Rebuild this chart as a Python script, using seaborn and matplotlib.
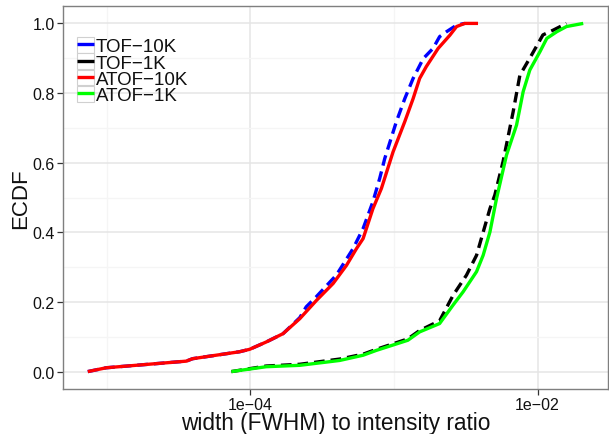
import matplotlib
matplotlib.use("Agg")
import numpy as np
import pandas as pd
import matplotlib.pyplot as plt
import seaborn as sns
from matplotlib.patches import Rectangle
from matplotlib.lines import Line2D
from matplotlib.legend_handler import HandlerTuple
from matplotlib.ticker import FixedLocator, NullFormatter

# ---------------- data ----------------
series = ["TOF−10K", "TOF−1K", "ATOF−10K", "ATOF−1K"]
colors = ["#0000ff", "#000000", "#ff0000", "#00ff00"]
dashed = [True, True, False, False]

tof10k_x = [7.38e-6, 9.93e-6, 3.58e-5, 3.96e-5, 8.41e-5, 9.89e-5, 1.29e-4, 1.69e-4,
            2.21e-4, 2.45e-4, 2.88e-4, 3.97e-4, 5.19e-4, 6.10e-4, 7.14e-4, 7.96e-4,
            8.63e-4, 1.04e-3, 1.19e-3, 1.36e-3, 1.60e-3, 1.87e-3, 2.08e-3, 2.32e-3,
            2.73e-3, 3.11e-3]
tof10k_y = [0.0, 0.011, 0.030, 0.037, 0.057, 0.064, 0.085, 0.109,
            0.155, 0.186, 0.215, 0.277, 0.353, 0.411, 0.488, 0.555,
            0.612, 0.718, 0.784, 0.842, 0.899, 0.928, 0.962, 0.976,
            0.995, 1.0]

tof1k_x = [7.38e-5, 1.29e-4, 2.21e-4, 4.19e-4, 6.10e-4, 7.55e-4, 1.25e-3, 1.51e-3,
           2.08e-3, 2.58e-3, 3.20e-3, 3.76e-3, 4.66e-3, 5.04e-3, 5.75e-3, 6.76e-3,
           7.53e-3, 9.08e-3, 1.09e-2, 1.29e-2, 1.59e-2]
tof1k_y = [0.0, 0.016, 0.021, 0.036, 0.050, 0.064, 0.094, 0.118,
           0.146, 0.219, 0.277, 0.334, 0.468, 0.507, 0.603, 0.746,
           0.851, 0.909, 0.967, 0.981, 1.0]

atof10k_x = [7.38e-6, 9.93e-6, 3.58e-5, 3.96e-5, 8.41e-5, 9.89e-5, 1.29e-4, 1.69e-4,
             2.21e-4, 2.88e-4, 3.77e-4, 4.67e-4, 5.48e-4, 6.10e-4, 7.14e-4, 8.18e-4,
             9.86e-4, 1.19e-3, 1.36e-3, 1.51e-3, 1.68e-3, 2.03e-3, 2.45e-3, 2.73e-3,
             3.11e-3, 3.85e-3]
atof10k_y = [0.0, 0.011, 0.030, 0.037, 0.057, 0.064, 0.085, 0.109,
             0.152, 0.204, 0.253, 0.305, 0.353, 0.382, 0.468, 0.526,
             0.631, 0.718, 0.784, 0.842, 0.876, 0.928, 0.966, 0.991,
             1.0, 1.0]

atof1k_x = [7.38e-5, 1.29e-4, 2.21e-4, 4.19e-4, 6.10e-4, 7.55e-4, 1.25e-3, 1.51e-3,
            2.08e-3, 2.58e-3, 3.03e-3, 3.76e-3, 4.18e-3, 4.66e-3, 5.18e-3, 6.08e-3,
            7.14e-3, 7.94e-3, 8.83e-3, 1.04e-2, 1.16e-2, 1.36e-2, 1.59e-2, 2.08e-2]
atof1k_y = [0.0, 0.014, 0.018, 0.032, 0.047, 0.061, 0.090, 0.114,
            0.138, 0.191, 0.229, 0.287, 0.334, 0.401, 0.497, 0.622,
            0.708, 0.804, 0.866, 0.919, 0.957, 0.976, 0.991, 1.0]

x_ticks = [1e-4, 1e-2]
x_tick_labels = ["1e−04", "1e−02"]
y_ticks = [0.0, 0.2, 0.4, 0.6, 0.8, 1.0]
y_tick_labels = ["0.0", "0.2", "0.4", "0.6", "0.8", "1.0"]

# ---------------- build table ----------------
xs = [tof10k_x, tof1k_x, atof10k_x, atof1k_x]
ys = [tof10k_y, tof1k_y, atof10k_y, atof1k_y]
df = pd.concat(
    [pd.DataFrame({"width": x, "ecdf": y, "series": s})
     for s, x, y in zip(series, xs, ys)],
    ignore_index=True,
)

sns.set_style("white")
plt.rcParams["font.family"] = ["Liberation Sans", "DejaVu Sans"]

fig = plt.figure(figsize=(6.09, 4.35), dpi=100)
W, H = 609, 435
ax = fig.add_axes([63 / W, (H - 390) / H, (608 - 63) / W, (390 - 7) / H])

palette = dict(zip(series, colors))
dash_map = {s: ((3.2, 1.8) if d else "") for s, d in zip(series, dashed)}
sns.lineplot(data=df, x="width", y="ecdf", hue="series", style="series",
             hue_order=series, style_order=series, palette=palette, dashes=dash_map,
             units="series", estimator=None, sort=False, linewidth=2.4,
             legend=False, ax=ax)
for ln in ax.get_lines():
    ln.set_solid_capstyle("butt")
    ln.set_dash_capstyle("butt")

ax.set_xscale("log")
lo, hi = np.log10(df["width"].min()), np.log10(df["width"].max())
pad = 0.05 * (hi - lo)
ax.set_xlim(10 ** (lo - pad), 10 ** (hi + pad))
ax.set_ylim(-0.05, 1.05)

ax.xaxis.set_major_locator(FixedLocator(x_ticks))
ax.set_xticklabels(x_tick_labels)
ax.xaxis.set_minor_locator(FixedLocator([1e-5, 1e-3, 1e-1]))
ax.xaxis.set_minor_formatter(NullFormatter())
ax.set_yticks(y_ticks)
ax.set_yticklabels(y_tick_labels)
ax.yaxis.set_minor_locator(FixedLocator([0.1, 0.3, 0.5, 0.7, 0.9]))

ax.grid(True, which="major", color="#e5e5e5", linewidth=1.1)
ax.grid(True, which="minor", color="#f5f5f5", linewidth=0.9)
ax.set_axisbelow(True)
ax.tick_params(which="major", length=4, width=0.9, color="#333333",
               labelsize=11.5, labelcolor="#111111", pad=2, bottom=True, left=True)
ax.tick_params(which="minor", length=0)
for sp in ax.spines.values():
    sp.set_color("#7f7f7f")
    sp.set_linewidth(1.0)

ax.set_xlabel("width (FWHM) to intensity ratio", fontsize=16.3, color="#111111", labelpad=-1)
ax.set_ylabel("ECDF", fontsize=16, color="#111111", labelpad=1)

# legend with boxed keys
handles = []
for s, c, d in zip(series, colors, dashed):
    box = Rectangle((0, 0), 1, 1, facecolor="white", edgecolor="#d0d0d0", linewidth=0.8)
    ln = Line2D([], [], color=c, linewidth=2.4, solid_capstyle="butt")
    handles.append((box, ln))
leg = ax.legend(handles, series, handler_map={tuple: HandlerTuple(ndivide=1, pad=0)},
                loc="upper left", bbox_to_anchor=(77 / W, 1 - 38 / H),
                bbox_transform=fig.transFigure, frameon=False, fontsize=13.5,
                handlelength=0.9, handleheight=0.9, handletextpad=0.1,
                labelspacing=-0.1, borderpad=0, borderaxespad=0)
for t in leg.get_texts():
    t.set_color("#111111")

fig.savefig("out.png", dpi=100)
